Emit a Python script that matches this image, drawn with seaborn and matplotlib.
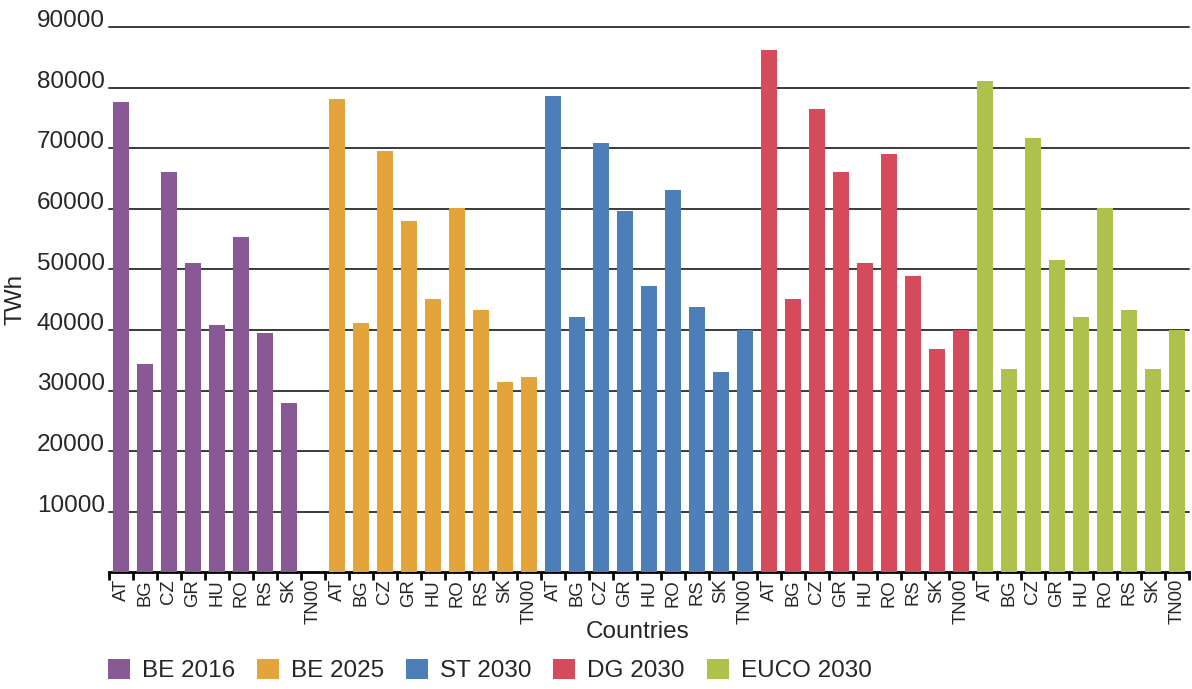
import numpy as np
import pandas as pd
import matplotlib
matplotlib.use("Agg")
import matplotlib.pyplot as plt
import seaborn as sns
from matplotlib.patches import Patch
from matplotlib.ticker import FixedLocator

# Annual demand per country and scenario (TWh)
countries = ["AT", "BG", "CZ", "GR", "HU", "RO", "RS", "SK", "TN00"]
scenarios = ["BE 2016", "BE 2025", "ST 2030", "DG 2030", "EUCO 2030"]

be_2016 = [77700, 34400, 66100, 51100, 40800, 55400, 39500, 27900, 0]
be_2025 = [78200, 41100, 69600, 58000, 45100, 60100, 43300, 31400, 32200]
st_2030 = [78700, 42100, 70900, 59600, 47300, 63100, 43800, 33000, 40000]
dg_2030 = [86200, 45100, 76500, 66100, 51100, 69100, 48900, 36900, 40000]
euco_2030 = [81200, 33600, 71700, 51600, 42100, 60100, 43300, 33600, 40000]

colors = ["#895996", "#E3A53B", "#4C7EB8", "#D64B5C", "#AEC14D"]

series = [be_2016, be_2025, st_2030, dg_2030, euco_2030]
rows = []
for scen, vals in zip(scenarios, series):
    for c, v in zip(countries, vals):
        rows.append({"slot": f"{scen}|{c}", "country": c, "scenario": scen, "value": v})
df = pd.DataFrame(rows)

sns.set_theme(style="white")
plt.rcParams["font.family"] = ["Liberation Sans", "DejaVu Sans"]

fig = plt.figure(figsize=(11.92, 6.89), dpi=100)
ax = fig.add_axes([109 / 1192, 1 - 572 / 689, 1080 / 1192, (572 - 27.5) / 689])

sns.barplot(data=df, x="slot", y="value", hue="scenario", hue_order=scenarios,
            palette=colors, dodge=False, width=0.68, saturation=1, ax=ax,
            legend=False, zorder=3, linewidth=0, edgecolor="none")

ax.set_xlim(-0.5, len(df) - 0.5)
ax.set_ylim(0, 90000)

# horizontal grid behind bars
yt = list(range(10000, 90001, 10000))
ax.set_yticks(yt)
ax.set_yticklabels([str(v) for v in yt], fontsize=17.5, va="baseline")
ax.tick_params(axis="y", length=0, pad=3)
for v in yt:
    ax.axhline(v, color="#3a3a3a", lw=1.4, zorder=1, clip_on=False)

# category labels at bar centers, tick marks at slot boundaries
ax.set_xticks(np.arange(len(df)))
ax.set_xticklabels(df["country"], rotation=90, fontsize=13.3)
ax.tick_params(axis="x", which="major", length=0, pad=5)
ax.xaxis.set_minor_locator(FixedLocator(np.arange(len(df) + 1) - 0.5))
ax.tick_params(axis="x", which="minor", length=6, width=2, color="black",
               direction="out", bottom=True)

for s in ["top", "right", "left"]:
    ax.spines[s].set_visible(False)
ax.spines["bottom"].set_color("black")
ax.spines["bottom"].set_linewidth(2)

ax.set_xlabel("Countries", fontsize=17.5)
ax.set_ylabel("TWh", fontsize=17.5)
ax.xaxis.set_label_coords((638 - 109) / 1080, -(632 - 572) / 544.5)
ax.yaxis.set_label_coords(-(109 - 15.5) / 1080, 0.5)
ax.xaxis.label.set_va("center")
ax.yaxis.label.set_va("center")

handles = [Patch(facecolor=c, edgecolor="none", label=s) for c, s in zip(colors, scenarios)]
fig.legend(handles=handles, loc="lower left", bbox_to_anchor=(108 / 1192, 0.010),
           ncol=5, frameon=False, fontsize=17.5, handlelength=0.9, handleheight=0.9,
           handletextpad=0.5, columnspacing=0.9, borderpad=0, borderaxespad=0)

fig.savefig("out.png", dpi=100)
